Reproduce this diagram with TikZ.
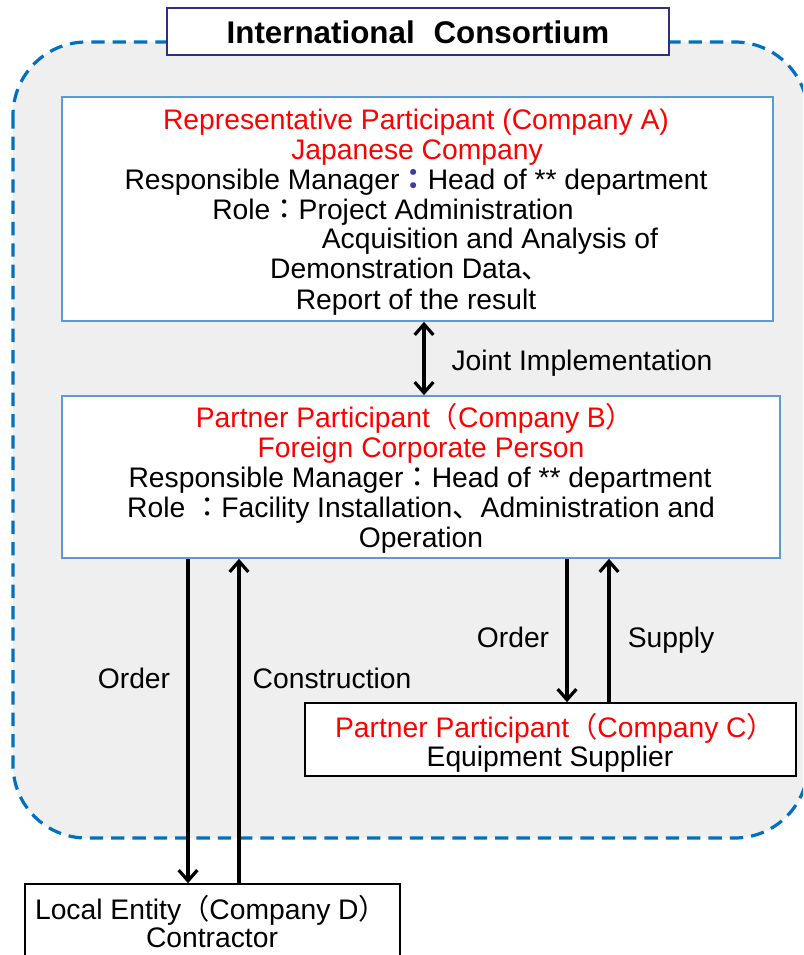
\documentclass[tikz,border=0pt]{standalone}
\usepackage{fontspec}
\setmainfont{Liberation Sans}
\newfontfamily\cjk{Noto Sans CJK JP}
\usetikzlibrary{arrows.meta}
\definecolor{dashblue}{HTML}{0070C0}
\definecolor{boxblue}{HTML}{5B9BD5}
\definecolor{navy}{HTML}{2E3180}
\definecolor{colblue}{HTML}{3A3AA8}
\definecolor{bggray}{HTML}{EFEFEF}
\definecolor{txtred}{HTML}{FF0000}
\newcommand{\fwl}{{\cjk （}}
\newcommand{\fwr}{{\cjk ）}}
\newcommand{\fwc}{{\cjk ：}}
\newcommand{\fwt}{{\cjk 、}}
\tikzset{
  txt/.style={inner sep=0pt, font=\fontsize{21.2}{22.5}\selectfont, anchor=base},
  bluebox/.style={draw=boxblue, line width=1.2pt, fill=white, inner sep=0pt},
  blackbox/.style={draw=black, line width=1.2pt, fill=white, inner sep=0pt},
  tip/.style={Straight Barb[length=8pt,width=14pt,line width=2.4pt]},
  arr/.style={line width=2.6pt, -{Straight Barb[length=8pt,width=14pt,line width=2.4pt]}},
  darr/.style={line width=2.6pt, {Straight Barb[length=8pt,width=14pt,line width=2.4pt]}-{Straight Barb[length=8pt,width=14pt,line width=2.4pt]}},
}
\begin{document}
\begin{tikzpicture}[x=0.75pt,y=-0.75pt]
\useasboundingbox (0,0) rectangle (803,955);
\clip (0,0) rectangle (803,955);
% consortium area
\draw[dashblue, line width=2.4pt, dash pattern=on 10pt off 6pt, fill=bggray, rounded corners=55pt] (13,42) rectangle (808,838);
% title
\node[draw=navy, line width=1.5pt, fill=white, minimum width=376.5pt, minimum height=35.25pt, inner sep=0pt,
      font=\fontsize{23.5}{25}\selectfont\bfseries] (title) at (418,32) {International\hspace{0.6em}Consortium};
% Box A
\node[bluebox, minimum width=533.25pt, minimum height=168pt] (boxA) at (417.5,209) {};
\node[txt, text=txtred] (a1) at (416,130) {Representative Participant (Company A)};
\node[txt, text=txtred] (a2) at (417,160) {Japanese Company};
\node[txt] (a3) at (416,190) {Responsible Manager{\color{colblue}\bfseries\fwc}Head of ** department};
\node[txt] (a4) at (393,220) {Role\fwc Project Administration};
\node[txt] (a5) at (490,249) {Acquisition and Analysis of};
\node[txt] (a6) at (410,279) {Demonstration Data\fwt};
\node[txt] (a7) at (416,309) {Report of the result};
% Box B
\node[bluebox, minimum width=538.5pt, minimum height=121.5pt] (boxB) at (421,477) {};
\node[txt, text=txtred] (b1) at (415,427) {Partner Participant\fwl Company B\fwr};
\node[txt, text=txtred] (b2) at (421,457) {Foreign Corporate Person};
\node[txt] (b3) at (420,487) {Responsible Manager\fwc Head of ** department};
\node[txt] (b4) at (421,517) {Role \fwc Facility Installation\fwt Administration and};
\node[txt] (b5) at (421,547) {Operation};
% Box C
\node[blackbox, minimum width=368.25pt, minimum height=54.75pt] (boxC) at (550.5,739.5) {};
\node[txt, text=txtred] (c1) at (555,737) {Partner Participant\fwl Company C\fwr};
\node[txt] (c2) at (550,766) {Equipment Supplier};
% Box D
\node[blackbox, minimum width=281.25pt, minimum height=60pt] (boxD) at (212.5,924) {};
\node[txt] (d1) at (211,919) {Local Entity\fwl Company D\fwr};
\node[txt] (d2) at (212,947) {Contractor};
% connectors
\coordinate (xj) at (424,0);
\coordinate (xo1) at (188,0);
\coordinate (xc1) at (239,0);
\coordinate (xo2) at (567,0);
\coordinate (xs2) at (609,0);
\draw[darr] (boxA.south -| xj) -- (boxB.north -| xj);
\draw[arr] (boxB.south -| xo1) -- (boxD.north -| xo1);
\draw[arr] (boxD.north -| xc1) -- (boxB.south -| xc1);
\draw[arr] (boxB.south -| xo2) -- (boxC.north -| xo2);
\draw[arr] (boxC.north -| xs2) -- (boxB.south -| xs2);
% labels
\node[txt] (lj) at (582,370) {Joint Implementation};
\node[txt] (lo1) at (134,688) {Order};
\node[txt] (lc1) at (332,688) {Construction};
\node[txt] (lo2) at (513,647) {Order};
\node[txt] (ls2) at (671,647) {Supply};
\end{tikzpicture}
\end{document}
